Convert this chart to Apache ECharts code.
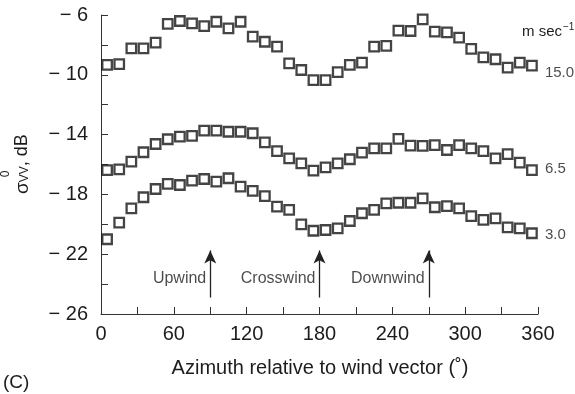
<!DOCTYPE html>
<html><head><meta charset="utf-8">
<script src="https://cdn.jsdelivr.net/npm/echarts@6/dist/echarts.min.js"></script>
<style>html,body{margin:0;padding:0;background:#fff}#c{width:575px;height:394px}</style>
</head><body><div id="c"></div>
<script>
// Azimuth (degrees) of each measurement
const azimuth = [5,15,25,35,45,55,65,75,85,95,105,115,125,135,145,155,165,175,185,195,205,215,225,235,245,255,265,275,285,295,305,315,325,335,345,355];
// sigma0 VV (dB) for each wind speed
const wind15 = [-9.34,-9.28,-8.23,-8.23,-7.85,-6.60,-6.40,-6.56,-6.74,-6.45,-6.89,-6.45,-7.45,-7.79,-8.12,-9.23,-9.68,-10.35,-10.35,-9.82,-9.34,-9.19,-8.12,-8.07,-7.05,-7.07,-6.29,-7.11,-7.16,-7.52,-8.27,-8.83,-8.96,-9.52,-9.19,-9.39];
const wind65 = [-16.37,-16.32,-15.81,-15.18,-14.63,-14.31,-14.14,-14.09,-13.74,-13.74,-13.81,-13.81,-13.91,-14.52,-15.10,-15.59,-15.92,-16.41,-16.19,-15.92,-15.65,-15.21,-14.92,-14.92,-14.29,-14.74,-14.76,-14.70,-15.03,-14.70,-14.92,-15.10,-15.59,-15.30,-15.88,-16.37];
const wind30 = [-21.00,-19.89,-18.93,-18.19,-17.64,-17.30,-17.37,-17.08,-16.97,-17.15,-16.92,-17.48,-17.77,-18.11,-18.82,-19.04,-20.00,-20.43,-20.38,-20.27,-19.78,-19.26,-19.04,-18.60,-18.56,-18.56,-18.26,-18.86,-18.78,-18.93,-19.45,-19.71,-19.60,-20.20,-20.27,-20.60];
// Tick labels
const xTickLabels = [0,60,120,180,240,300,360];
const yTickLabels = [-6,-10,-14,-18,-22,-26];
// Speed labels at right end
const speedLabels = ['15.0','6.5','3.0'];
const speedLabelY = [-9.88,-16.30,-20.72];
const speedLabelX = 355;
// Annotations
const annoX = [90,180,270];
const annoText = ['Upwind','Crosswind','Downwind'];
const annoTextY = -23.66;
const arrowFrom = -24.9, arrowTo = -21.75;

const FONT = '"Liberation Sans", Arial, Helvetica, sans-serif';
const TXT = '#1e1b1c';
const chart = echarts.init(document.getElementById('c'), null, {renderer:'canvas'});

function sq(vals){ return azimuth.map((a,i)=>[a, vals[i]]); }
const markerSeries = [wind15, wind65, wind30].map(v => ({
  type:'scatter', data: sq(v), symbol:'rect', symbolSize:9.5,
  itemStyle:{color:'rgba(255,255,255,0)', borderColor:'#151515', borderWidth:2.3},
  silent:true, animation:false
}));

chart.setOption({
  animation:false,
  grid:{left:101, right:37, top:15, bottom:80, outerBoundsMode:'none', containLabel:false},
  xAxis:{
    type:'value', min:0, max:360, interval:30,
    axisLine:{show:true, lineStyle:{color:'#333', width:1}},
    axisTick:{show:true, inside:true, length:7, lineStyle:{color:'#333'}},
    splitLine:{show:false},
    axisLabel:{fontSize:20, fontFamily:FONT, color:TXT, margin:10, showMinLabel:true, showMaxLabel:true,
      formatter: v => xTickLabels.indexOf(v) >= 0 ? String(v) : ''}
  },
  yAxis:{
    type:'value', min:-26, max:-6, interval:2,
    axisLine:{show:true, lineStyle:{color:'#333', width:1}},
    axisTick:{show:true, inside:true, length:7, lineStyle:{color:'#333'}},
    splitLine:{show:false},
    axisLabel:{fontSize:20, fontFamily:FONT, color:TXT, margin:13, showMinLabel:true, showMaxLabel:true,
      formatter: v => yTickLabels.indexOf(v) >= 0 ? '\u2212 ' + Math.abs(v) : ''}
  },
  series: markerSeries.concat([
    {
      type:'scatter', data: annoX.map(x=>[x, annoTextY]), symbolSize:0, silent:true,
      label:{show:true, position:'left', distance:4, fontSize:16, fontFamily:FONT, color:TXT,
        formatter: p => annoText[p.dataIndex]},
      markLine:{
        silent:true, symbol:['none','arrow'], symbolSize:[9,13], animation:false,
        label:{show:false},
        lineStyle:{color:'#222', width:1.3, type:'solid'},
        data: annoX.map(x => [{coord:[x, arrowFrom]}, {coord:[x, arrowTo]}])
      }
    },
    {
      type:'scatter', data: speedLabelY.map(y=>[speedLabelX, y]), symbolSize:0, silent:true,
      label:{show:true, position:'right', distance:13, fontSize:15, fontFamily:FONT, color:TXT,
        formatter: p => speedLabels[p.dataIndex]}
    }
  ]),
  graphic:[
    {type:'text', x:320, y:368, style:{text:'Azimuth relative to wind vector (\u02DA)', fontSize:20, fontFamily:FONT, fill:TXT, align:'center', verticalAlign:'middle'}},
    {type:'text', x:3, y:383, style:{text:'(C)', fontSize:19, fontFamily:FONT, fill:TXT, align:'left', verticalAlign:'middle'}},
    {type:'text', x:522, y:32, style:{text:'m sec', fontSize:15, fontFamily:FONT, fill:TXT, align:'left', verticalAlign:'middle'}},
    {type:'text', x:563, y:27, style:{text:'\u22121', fontSize:10, fontFamily:FONT, fill:TXT, align:'left', verticalAlign:'middle'}},
    {type:'text', x:32, y:194, rotation:Math.PI/2, style:{
      text:'{s|\u03C3}{v|VV}{n|, dB}', fontFamily:FONT, fill:TXT, align:'left', verticalAlign:'bottom',
      rich:{s:{fontSize:19, fontFamily:FONT, color:TXT}, v:{fontSize:12, fontFamily:FONT, color:TXT, padding:[4,0,0,0]}, n:{fontSize:18, fontFamily:FONT, color:TXT}}
    }},
    {type:'text', x:6, y:174, rotation:Math.PI/2, style:{text:'0', fontSize:12, fontFamily:FONT, fill:TXT, align:'center', verticalAlign:'middle'}}
  ]
});
</script>
</body></html>
